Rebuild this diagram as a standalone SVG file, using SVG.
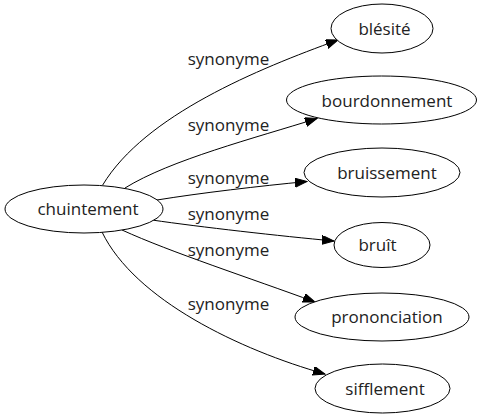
<svg xmlns="http://www.w3.org/2000/svg" width="483" height="419" viewBox="0 0 483 419">
<defs>
<style>
.node ellipse{fill:#fff;stroke:#000;stroke-width:1}
.node text{font-family:"Open Sans","DejaVu Sans",sans-serif;font-size:17px;fill:#222;text-anchor:middle}
.edges path{fill:none;stroke:#000;stroke-width:1}
.edges text{font-family:"Open Sans","DejaVu Sans",sans-serif;font-size:17px;fill:#222;text-anchor:middle}
</style>
<marker id="arr" markerUnits="userSpaceOnUse" markerWidth="13" markerHeight="10" refX="12" refY="4.5" orient="auto">
<path d="M0,0 L12,4.5 L0,9 z" fill="#000" stroke="#000" stroke-width="1"/>
</marker>
</defs>
<rect width="483" height="419" fill="#fff"/>
<g id="connectors" class="edges">
<path d="M102.7,185 C145,115 258,69 338,40" marker-end="url(#arr)"/>
<text x="228.5" y="65">synonyme</text>
<path d="M125,188 C170,160 255,138 317,118.5" marker-end="url(#arr)"/>
<text x="228.5" y="131">synonyme</text>
<path d="M157,200 C200,193 260,186 307,181.5" marker-end="url(#arr)"/>
<text x="228.5" y="183.5">synonyme</text>
<path d="M152,220 C200,227 280,236 334,241" marker-end="url(#arr)"/>
<text x="228.5" y="219.5">synonyme</text>
<path d="M122,230 C170,252 250,278 315,302" marker-end="url(#arr)"/>
<text x="228.5" y="256">synonyme</text>
<path d="M102,232 C135,300 240,350 325,374" marker-end="url(#arr)"/>
<text x="228.5" y="309.5">synonyme</text>
</g>
<g id="node-chuintement" class="node">
<ellipse cx="84" cy="209" rx="79" ry="24"/>
<text x="88" y="215">chuintement</text>
</g>
<g id="node-blesite" class="node">
<ellipse cx="382" cy="28.5" rx="51" ry="24.5"/>
<text x="384.5" y="35">blésité</text>
</g>
<g id="node-bourdonnement" class="node">
<ellipse cx="381.5" cy="100" rx="95" ry="24"/>
<text x="387" y="106.5">bourdonnement</text>
</g>
<g id="node-bruissement" class="node">
<ellipse cx="382" cy="172.5" rx="78" ry="24.5"/>
<text x="387" y="178.5">bruissement</text>
</g>
<g id="node-bruit" class="node">
<ellipse cx="382" cy="245" rx="48" ry="22.5"/>
<text x="377.5" y="251">bruît</text>
</g>
<g id="node-prononciation" class="node">
<ellipse cx="382" cy="317" rx="87" ry="24"/>
<text x="387" y="322.5">prononciation</text>
</g>
<g id="node-sifflement" class="node">
<ellipse cx="382.5" cy="388.5" rx="67.5" ry="24.5"/>
<text x="385" y="395">sifflement</text>
</g>
</svg>
